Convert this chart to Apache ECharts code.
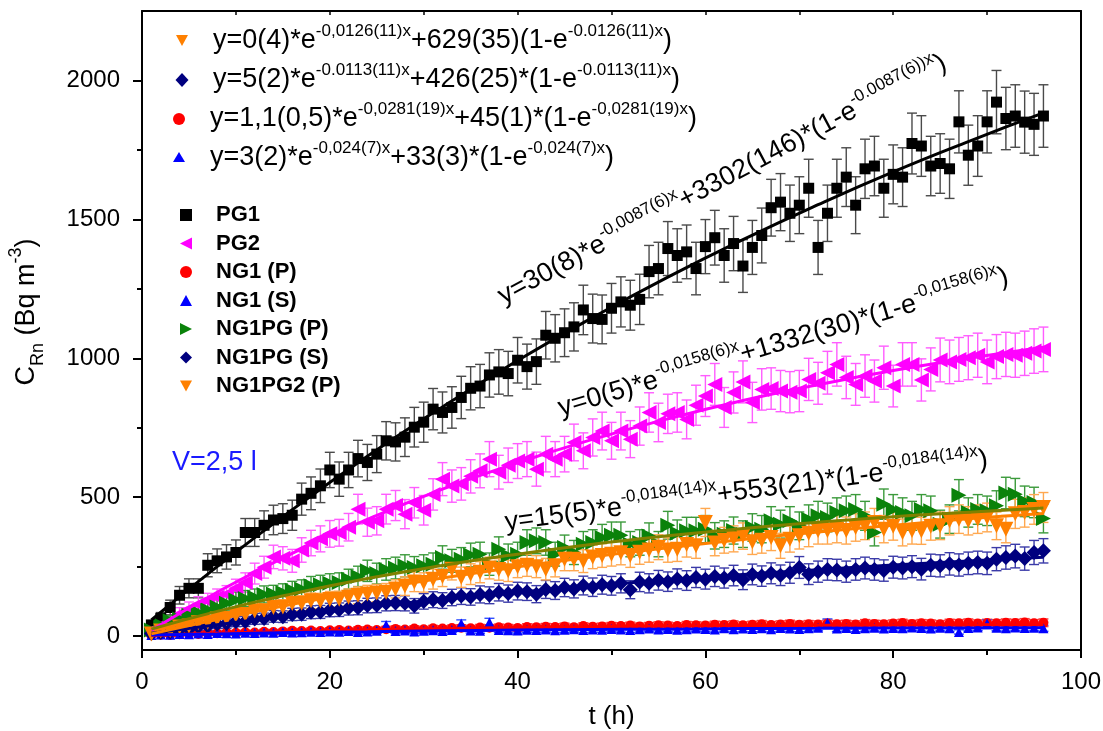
<!DOCTYPE html>
<html><head><meta charset="utf-8">
<script src="https://cdn.jsdelivr.net/npm/echarts@6/dist/echarts.min.js"></script>
<style>html,body{margin:0;padding:0;background:#fff}#c{width:1103px;height:731px}</style>
</head><body><div id="c"></div>
<script>
// ---- data ----
const hours = [1,2,3,4,5,6,7,8,9,10,11,12,13,14,15,16,17,18,19,20,21,22,23,24,25,26,27,28,29,30,31,32,33,34,35,36,37,38,39,40,41,42,43,44,45,46,47,48,49,50,51,52,53,54,55,56,57,58,59,60,61,62,63,64,65,66,67,68,69,70,71,72,73,74,75,76,77,78,79,80,81,82,83,84,85,86,87,88,89,90,91,92,93,94,95,96];

const PG1 = [40, 64, 103, 147, 172, 172, 255, 271, 285, 301,
 373, 373, 399, 418, 423, 435, 493, 514, 541, 598,
 565, 598, 639, 625, 655, 703, 699, 716, 752, 770,
 817, 805, 823, 859, 892, 900, 940, 951, 945, 993,
 970, 988, 1083, 1072, 1092, 1113, 1174, 1143, 1140, 1180,
 1203, 1191, 1212, 1312, 1323, 1395, 1370, 1383, 1323, 1402,
 1434, 1370, 1413, 1332, 1399, 1442, 1542, 1562, 1522, 1551,
 1612, 1399, 1522, 1612, 1652, 1551, 1682, 1692, 1612, 1662,
 1652, 1773, 1764, 1692, 1701, 1682, 1851, 1731, 1764, 1851,
 1922, 1863, 1872, 1850, 1842, 1872];

const PG2 = [20, 38, 55, 80, 98, 115, 126, 140, 151, 172,
 193, 225, 248, 285, 280, 271, 310, 335, 350, 368,
 372, 392, 457, 410, 415, 457, 470, 439, 480, 453,
 510, 565, 540, 548, 575, 595, 637, 590, 615, 630,
 637, 601, 655, 637, 655, 697, 667, 715, 738, 703,
 738, 709, 756, 805, 769, 800, 805, 780, 831, 864,
 906, 823, 877, 915, 841, 888, 891, 882, 878, 882,
 924, 910, 948, 978, 931, 906, 936, 918, 966, 900,
 978, 978, 922, 960, 994, 987, 996, 1002, 1011, 987,
 1006, 1014, 1011, 1018, 1026, 1032];

const NG1_P = [3, 5, 4, 7, 9, 8, 11, 10, 13, 12,
 14, 13, 16, 15, 17, 19, 18, 20, 18, 21,
 22, 20, 23, 24, 22, 25, 26, 24, 27, 25,
 28, 27, 29, 30, 28, 31, 30, 32, 31, 29,
 33, 32, 34, 33, 35, 32, 36, 34, 35, 37,
 36, 38, 35, 37, 39, 38, 36, 40, 39, 38,
 41, 40, 42, 39, 41, 43, 40, 42, 44, 41,
 43, 42, 45, 43, 44, 42, 46, 44, 43, 45,
 47, 44, 46, 45, 43, 47, 46, 48, 45, 47,
 46, 48, 47, 49, 46, 48];

const NG1_S = [4, 6, 5, 8, 7, 9, 8, 11, 10, 9,
 12, 11, 13, 12, 15, 13, 14, 16, 15, 17,
 16, 18, 15, 17, 19, 40, 18, 20, 17, 19,
 21, 18, 22, 45, 20, 19, 50, 22, 21, 20,
 23, 22, 24, 21, 23, 25, 22, 24, 23, 26,
 24, 22, 25, 27, 24, 26, 23, 25, 27, 26,
 24, 28, 25, 27, 26, 28, 25, 29, 27, 26,
 28, 30, 48, 27, 29, 26, 28, 30, 27, 29,
 28, 31, 29, 27, 30, 28, 15, 29, 31, 45,
 30, 28, 31, 29, 30, 28];

const NG1PG_P = [22, 40, 55, 62, 75, 85, 95, 105, 118, 130,
 135, 140, 150, 152, 157, 165, 170, 181, 185, 190,
 193, 205, 215, 235, 225, 240, 245, 253, 247, 253,
 259, 283, 271, 277, 292, 295, 259, 313, 289, 295,
 337, 343, 337, 295, 319, 301, 331, 337, 355, 363,
 363, 331, 337, 360, 331, 399, 370, 379, 379, 385,
 361, 367, 380, 367, 391, 385, 415, 403, 415, 397,
 421, 433, 427, 445, 451, 456, 433, 373, 475, 456,
 445, 433, 456, 451, 403, 421, 507, 445, 456, 451,
 469, 515, 511, 485, 481, 423];

const NG1PG_S = [9, 14, 16, 24, 26, 35, 36, 44, 45, 52,
 53, 62, 63, 71, 70, 78, 79, 86, 87, 94,
 95, 101, 102, 110, 111, 118, 119, 118, 109, 125,
 131, 128, 139, 144, 141, 150, 147, 158, 153, 162,
 160, 151, 168, 164, 175, 170, 182, 176, 185, 181,
 190, 167, 195, 190, 201, 196, 206, 200, 211, 205,
 215, 209, 218, 203, 222, 216, 226, 219, 228, 247,
 223, 232, 240, 238, 232, 240, 245, 240, 236, 248,
 245, 250, 241, 255, 253, 260, 256, 262, 265, 262,
 277, 283, 288, 279, 301, 307];

const NG1PG2_P = [8, 18, 20, 33, 36, 48, 50, 62, 63, 75,
 78, 90, 91, 103, 105, 117, 118, 127, 126, 132,
 133, 140, 147, 152, 155, 158, 170, 180, 195, 193,
 205, 215, 241, 212, 223, 230, 245, 240, 235, 250,
 255, 250, 241, 253, 277, 277, 270, 285, 290, 295,
 300, 290, 302, 310, 320, 310, 313, 330, 325, 409,
 335, 345, 350, 360, 340, 345, 355, 325, 349, 361,
 370, 380, 380, 385, 380, 391, 397, 409, 385, 395,
 373, 380, 379, 395, 397, 415, 421, 415, 421, 427,
 397, 385, 440, 445, 456, 463];

// fitted curves, read at these hours
const fitHours = [1, 8, 16, 24, 32, 40, 48, 56, 64, 72, 80, 88, 96];
const fitPG1 = [58, 250, 455, 647, 825, 992, 1147, 1292, 1427, 1553, 1671, 1780, 1883];
const fitPG2 = [21, 158, 298, 420, 529, 624, 708, 782, 848, 905, 956, 1000, 1040];
const fitNG1_P = [2, 10, 17, 23, 27, 31, 34, 36, 38, 39, 40, 41, 42];
const fitNG1_S = [4, 8, 13, 16, 19, 22, 24, 25, 27, 28, 29, 29, 30];
const fitNG1PG_P = [25, 89, 152, 207, 254, 295, 331, 361, 387, 410, 430, 446, 461];
const fitNG1PG_S = [10, 41, 75, 105, 133, 158, 181, 202, 222, 239, 256, 270, 284];
const fitNG1PG2_P = [8, 60, 115, 164, 209, 249, 286, 318, 348, 375, 399, 422, 441];

// error bar scale (uncertainty ~ k * sqrt(C))
const errScale = [2.6, 2.5, 2.0, 2.0, 2.5, 2.5, 2.5];

const xTicks = [0, 20, 40, 60, 80, 100];
const yTicks = [0, 500, 1000, 1500, 2000];
const yMinorTicks = [250, 750, 1250, 1750];

const seriesNames = ['PG1', 'PG2', 'NG1 (P)', 'NG1 (S)', 'NG1PG (P)', 'NG1PG (S)', 'NG1PG2 (P)'];

const eqTop = [
  ['y=0(4)*e', '-0,0126(11)x', '+629(35)(1-e', '-0.0126(11)x', ')'],
  ['y=5(2)*e', '-0.0113(11)x', '+426(25)*(1-e', '-0.0113(11)x', ')'],
  ['y=1,1(0,5)*e', '-0,0281(19)x', '+45(1)*(1-e', '-0,0281(19)x', ')'],
  ['y=3(2)*e', '-0,024(7)x', '+33(3)*(1-e', '-0,024(7)x', ')']
];
const eqPG1 = ['y=30(8)*e', '-0,0087(6)x', '+3302(146)*(1-e', '-0.0087(6))x', ')'];
const eqPG2 = ['y=0(5)*e', '-0,0158(6)x', '+1332(30)*(1-e', '-0,0158(6)x', ')'];
const eqNG1PG = ['y=15(5)*e', '-0,0184(14)x', '+553(21)*(1-e', '-0,0184(14)x', ')'];

// ---- chart ----
const FONT = '"Liberation Sans", Arial, Helvetica, sans-serif';
const values = [PG1, PG2, NG1_P, NG1_S, NG1PG_P, NG1PG_S, NG1PG2_P];
const fits = [fitPG1, fitPG2, fitNG1_P, fitNG1_S, fitNG1PG_P, fitNG1PG_S, fitNG1PG2_P];
const styles = [
  {color: '#000000', err: '#4a4a4a', fit: '#000000', symbol: 'rect', size: 11, rot: 0, icon: 'rect'},
  {color: '#ff00ff', err: '#ff5cff', fit: '#ff00ff', symbol: 'triangle', size: 15, rot: 90, icon: 'path://M10,0 L10,10 L0,5 Z'},
  {color: '#ff0000', err: '#ff4040', fit: '#ff0000', symbol: 'circle', size: 10, rot: 0, icon: 'circle'},
  {color: '#0000ff', err: '#3050ff', fit: '#0000ff', symbol: 'triangle', size: 10, rot: 0, icon: 'path://M5,0 L10,9 L0,9 Z'},
  {color: '#0a820a', err: '#3b9a3b', fit: '#808000', symbol: 'triangle', size: 15, rot: -90, icon: 'path://M0,0 L10,5 L0,10 Z'},
  {color: '#00007f', err: '#3a3aa8', fit: '#00007f', symbol: 'diamond', size: 15, rot: 0, icon: 'diamond'},
  {color: '#ff8000', err: '#ffa850', fit: '#ff8000', symbol: 'triangle', size: 15, rot: 180, icon: 'path://M0,0 L10,0 L5,9 Z'}
];
const fitNames = seriesNames.map(n => 'fit ' + n);

function errRender(color) {
  return function (params, api) {
    const x = api.value(0), y = api.value(1), e = api.value(2);
    const t = api.coord([x, y + e]);
    const b = api.coord([x, y - e]);
    const w = 5;
    const st = {stroke: color, lineWidth: 1.4};
    return {type: 'group', children: [
      {type: 'line', shape: {x1: t[0], y1: t[1], x2: b[0], y2: b[1]}, style: st},
      {type: 'line', shape: {x1: t[0] - w, y1: t[1], x2: t[0] + w, y2: t[1]}, style: st},
      {type: 'line', shape: {x1: b[0] - w, y1: b[1], x2: b[0] + w, y2: b[1]}, style: st}
    ]};
  };
}

const series = [];
values.forEach((arr, i) => {
  const s = styles[i];
  series.push({
    name: 'err ' + seriesNames[i], type: 'custom', z: 2, silent: true,
    renderItem: errRender(s.err), encode: {x: 0, y: 1},
    data: arr.map((v, j) => [hours[j], v, errScale[i] * Math.sqrt(Math.max(v, 1))])
  });
});
values.forEach((arr, i) => {
  const s = styles[i];
  series.push({
    name: seriesNames[i], type: 'scatter', z: 3, symbol: s.symbol, symbolSize: s.size,
    symbolRotate: s.rot, itemStyle: {color: s.color, opacity: 1},
    data: arr.map((v, j) => [hours[j], v])
  });
});
fits.forEach((arr, i) => {
  const s = styles[i];
  series.push({
    name: fitNames[i], type: 'line', z: 4, smooth: true, showSymbol: false, symbol: 'none',
    color: s.color,
    lineStyle: {color: s.fit, width: 3},
    data: arr.map((v, j) => [fitHours[j], v])
  });
});

function eqRich(p) {
  return '{m|' + p[0] + '}{s|' + p[1] + '}{m|' + p[2] + '}{s|' + p[3] + '}{m|' + p[4] + '}';
}
const richEq = {
  m: {fontSize: 27, fontFamily: FONT, fill: '#000', color: '#000', lineHeight: 36},
  s: {fontSize: 17, fontFamily: FONT, fill: '#000', color: '#000', lineHeight: 8, verticalAlign: 'top'}
};

function eqText(p, x, y, deg) {
  return {
    type: 'text', x: x, y: y, rotation: deg * Math.PI / 180, silent: true, z: 10,
    style: {text: eqRich(p), rich: richEq, fontSize: 27, fontFamily: FONT, fill: '#000',
            align: 'left', verticalAlign: 'middle'}
  };
}

// top legend glyphs (legend keys, not data marks)
const topKeyGlyphs = [
  {type: 'polygon', shape: {points: [[176, 35], [188, 35], [182, 46]]}, style: {fill: '#ff8000'}},
  {type: 'polygon', shape: {points: [[182, 73], [188.5, 80], [182, 87], [175.5, 80]]}, style: {fill: '#00007f'}},
  {type: 'circle', shape: {cx: 179, cy: 119, r: 6}, style: {fill: '#ff0000'}},
  {type: 'polygon', shape: {points: [[173, 162], [185, 162], [179, 152]]}, style: {fill: '#0000ff'}}
];

const option = {
  backgroundColor: '#ffffff',
  animation: false,
  grid: {left: 142, right: 22, top: 11, bottom: 81, containLabel: false, outerBoundsMode: 'none'},
  xAxis: [{
    type: 'value', min: 0, max: 100, interval: 20,
    name: 't (h)', nameLocation: 'middle', nameGap: 54,
    nameTextStyle: {fontSize: 26, fontFamily: FONT, color: '#000'},
    axisLine: {show: true, onZero: false, lineStyle: {color: '#000', width: 2}},
    axisTick: {show: true, length: 8, lineStyle: {color: '#000', width: 2}},
    minorTick: {show: true, splitNumber: 2, length: 5, lineStyle: {color: '#000', width: 2}},
    axisLabel: {fontSize: 24, fontFamily: FONT, color: '#000', margin: 20},
    splitLine: {show: false}
  }, {
    type: 'value', min: 0, max: 100, interval: 10, position: 'top',
    axisLine: {show: true, onZero: false, lineStyle: {color: '#000', width: 2}},
    axisTick: {show: true, inside: true, length: 4, lineStyle: {color: '#000', width: 1.5}},
    axisLabel: {show: false}, splitLine: {show: false}
  }],
  yAxis: [{
    type: 'value', min: -50, max: 2250, position: 'left',
    axisLine: {show: true, onZero: false, lineStyle: {color: '#000', width: 2}},
    axisTick: {show: true, length: 9, customValues: yTicks, lineStyle: {color: '#000', width: 2}},
    axisLabel: {fontSize: 24, fontFamily: FONT, color: '#000', margin: 22, customValues: yTicks,
                formatter: function (v) { return String(v); }},
    splitLine: {show: false}
  }, {
    type: 'value', min: -50, max: 2250, position: 'left', offset: 0,
    axisLine: {show: false},
    axisTick: {show: true, length: 5, customValues: yMinorTicks, lineStyle: {color: '#000', width: 2}},
    axisLabel: {show: false, customValues: yMinorTicks}, splitLine: {show: false}
  }, {
    type: 'value', min: -50, max: 2250, position: 'right',
    axisLine: {show: true, onZero: false, lineStyle: {color: '#000', width: 2}},
    axisTick: {show: false}, axisLabel: {show: false}, splitLine: {show: false}
  }],
  legend: [{
    selectedMode: false, orient: 'vertical', left: 175, top: 199,
    itemWidth: 12, itemHeight: 12, itemGap: 6.5,
    data: seriesNames.map((n, i) => ({name: n, icon: styles[i].icon})),
    textStyle: {fontSize: 22, fontWeight: 'bold', fontFamily: FONT, color: '#000',
                lineHeight: 22, padding: [0, 0, 0, 19]}
  }],
  graphic: [
    ...topKeyGlyphs.map(g => Object.assign({silent: true, z: 10}, g)),
    eqText(eqTop[0], 213, 41, 0),
    eqText(eqTop[1], 213, 80, 0),
    eqText(eqTop[2], 210, 119, 0),
    eqText(eqTop[3], 210, 158, 0),
    eqText(eqPG1, 500, 298, 28),
    eqText(eqPG2, 559, 409, 16.5),
    eqText(eqNG1PG, 505, 523, 7.5),
    {type: 'text', x: 172, y: 463, silent: true,
     style: {text: 'V=2,5 l', fontSize: 27, fontFamily: FONT, fill: '#1a1aff', align: 'left', verticalAlign: 'middle'}},
    {type: 'text', x: 27, y: 312, rotation: Math.PI / 2, silent: true,
     style: {text: '{m|C}{b|Rn}{m| (Bq m}{t|-3}{m|)}', align: 'center', verticalAlign: 'middle',
             fontSize: 27, fontFamily: FONT, fill: '#000',
             rich: {
               m: {fontSize: 27, fontFamily: FONT, fill: '#000', lineHeight: 40},
               b: {fontSize: 18, fontFamily: FONT, fill: '#000', lineHeight: 8, verticalAlign: 'bottom'},
               t: {fontSize: 18, fontFamily: FONT, fill: '#000', lineHeight: 4, verticalAlign: 'top'}
             }}}
  ],
  series: series
};

const chart = echarts.init(document.getElementById('c'), null, {renderer: 'canvas'});
chart.setOption(option);
</script>
</body></html>
